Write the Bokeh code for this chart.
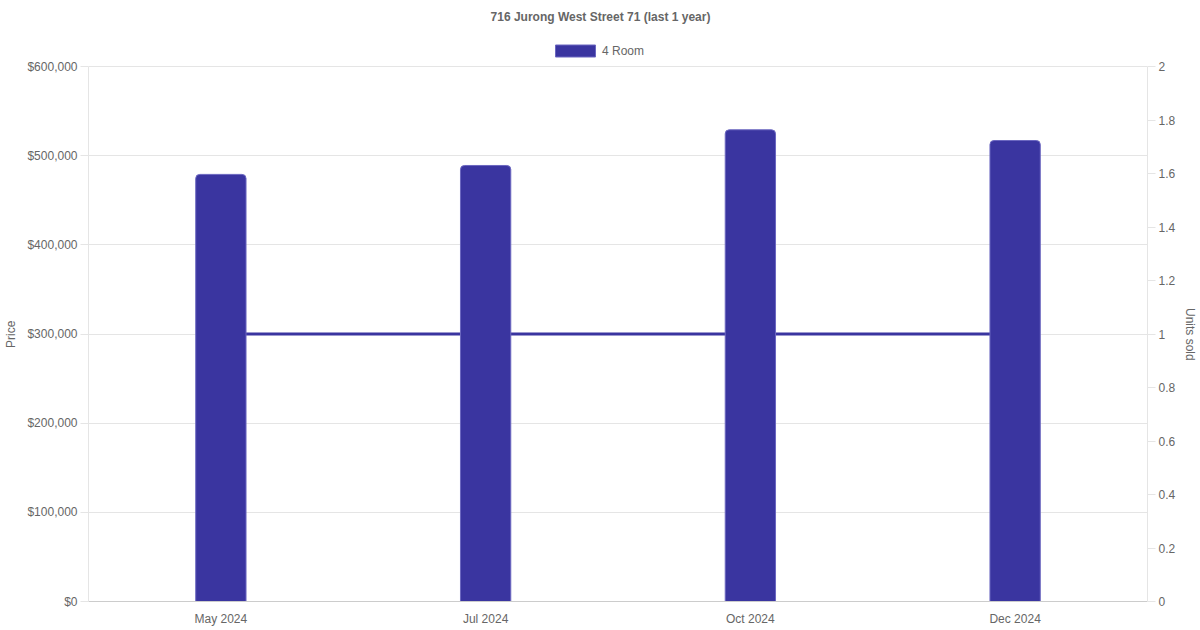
from bokeh.plotting import figure
from bokeh.models import (Range1d, LinearAxis, FixedTicker, NumeralTickFormatter,
                          CustomJSTickFormatter, Legend, LegendItem, FactorRange, Label)
from bokeh.embed import file_html
from bokeh.resources import INLINE

chart_title = "716 Jurong West Street 71 (last 1 year)"
months = ["May 2024", "Jul 2024", "Oct 2024", "Dec 2024"]
prices = [479000, 489000, 529000, 517000]
units_sold = [1, 1, 1, 1]
series_name = "4 Room"
left_title = "Price"
right_title = "Units sold"
price_ticks = [0, 100000, 200000, 300000, 400000, 500000, 600000]
unit_ticks = [0, 0.2, 0.4, 0.6, 0.8, 1, 1.2, 1.4, 1.6, 1.8, 2]
price_max = 600000
units_max = 2

FONT = "Liberation Sans"
TXT = "#666666"
BAR = "#3a35a0"
GRID = "#e5e5e5"

LEFT = 88
FRAME_W = 1059
FRAME_H = 601          # frame reaches to the top of the figure
AXIS_PX = 535          # pixels used by the 0..max span of the value axes
scale = FRAME_H / AXIS_PX
CENTER_X = 600 - LEFT  # chart-wide centre, in frame coordinates
PAD = "\u00a0" * 20    # shifts the axis titles to the middle of the value span

p = figure(x_range=FactorRange(*months), y_range=Range1d(0, price_max * scale),
           frame_width=FRAME_W, frame_height=FRAME_H, title=None,
           output_backend="svg", toolbar_location=None,
           min_border_left=LEFT, min_border_right=53, min_border_top=0,
           min_border_bottom=29, outline_line_color=None)
p.extra_y_ranges = {"units": Range1d(0, units_max * scale)}

line_r = p.line(x=months, y=units_sold, y_range_name="units", line_width=3, color=BAR)
bar_r = p.vbar(x=months, top=prices, width=0.19, fill_color=BAR, line_color="#6b67c0",
               line_width=1, border_radius=(4, 4, 0, 0))

# title (drawn inside the extended frame)
p.add_layout(Label(x=CENTER_X, y=FRAME_H - 16, x_units="screen", y_units="screen",
                   text=chart_title, text_align="center", text_baseline="middle",
                   text_font=FONT, text_font_size="12px", text_font_style="bold",
                   text_color=TXT))

# left axis
ya = p.yaxis[0]
ya.bounds = (0, price_max)
ya.ticker = FixedTicker(ticks=price_ticks)
ya.formatter = NumeralTickFormatter(format="$0,0")
ya.axis_label = left_title + PAD
ya.axis_label_text_font = FONT
ya.axis_label_text_font_size = "12px"
ya.axis_label_text_font_style = "normal"
ya.axis_label_text_color = TXT
ya.axis_label_standoff = 6
ya.major_label_text_font = FONT
ya.major_label_text_font_size = "12px"
ya.major_label_text_color = TXT
ya.major_label_standoff = 3
ya.axis_line_color = GRID
ya.major_tick_line_color = GRID
ya.major_tick_out = 8
ya.major_tick_in = 0
ya.minor_tick_line_color = None

# right axis
ra = LinearAxis(y_range_name="units", ticker=FixedTicker(ticks=unit_ticks), bounds=(0, units_max),
                formatter=CustomJSTickFormatter(code="return String(Math.round(tick*10)/10);"))
ra.axis_label = PAD + right_title
ra.axis_label_text_font = FONT
ra.axis_label_text_font_size = "12px"
ra.axis_label_text_font_style = "normal"
ra.axis_label_text_color = TXT
ra.axis_label_standoff = 5
ra.major_label_text_font = FONT
ra.major_label_text_font_size = "12px"
ra.major_label_text_color = TXT
ra.major_label_standoff = 3
ra.axis_line_color = GRID
ra.major_tick_line_color = GRID
ra.major_tick_out = 8
ra.major_tick_in = 0
ra.minor_tick_line_color = None
p.add_layout(ra, "right")

# x axis
xa = p.xaxis[0]
xa.major_label_text_font = FONT
xa.major_label_text_font_size = "12px"
xa.major_label_text_color = TXT
xa.major_label_standoff = 10
xa.major_tick_out = 0
xa.major_tick_in = 0
xa.major_tick_line_color = None
xa.axis_line_color = "#cccccc"

p.xgrid.grid_line_color = None
p.ygrid.grid_line_color = GRID
p.ygrid.ticker = FixedTicker(ticks=price_ticks)

legend = Legend(items=[LegendItem(label=series_name, renderers=[bar_r])],
                orientation="horizontal", location=(CENTER_X - 50, FRAME_H - 58),
                glyph_width=50, glyph_height=15, label_standoff=2,
                label_text_font=FONT, label_text_font_size="12px", label_text_color=TXT,
                border_line_color=None, background_fill_alpha=0, padding=0, margin=0)
p.add_layout(legend, "center")

open("out.html", "w").write(file_html(p, INLINE))
